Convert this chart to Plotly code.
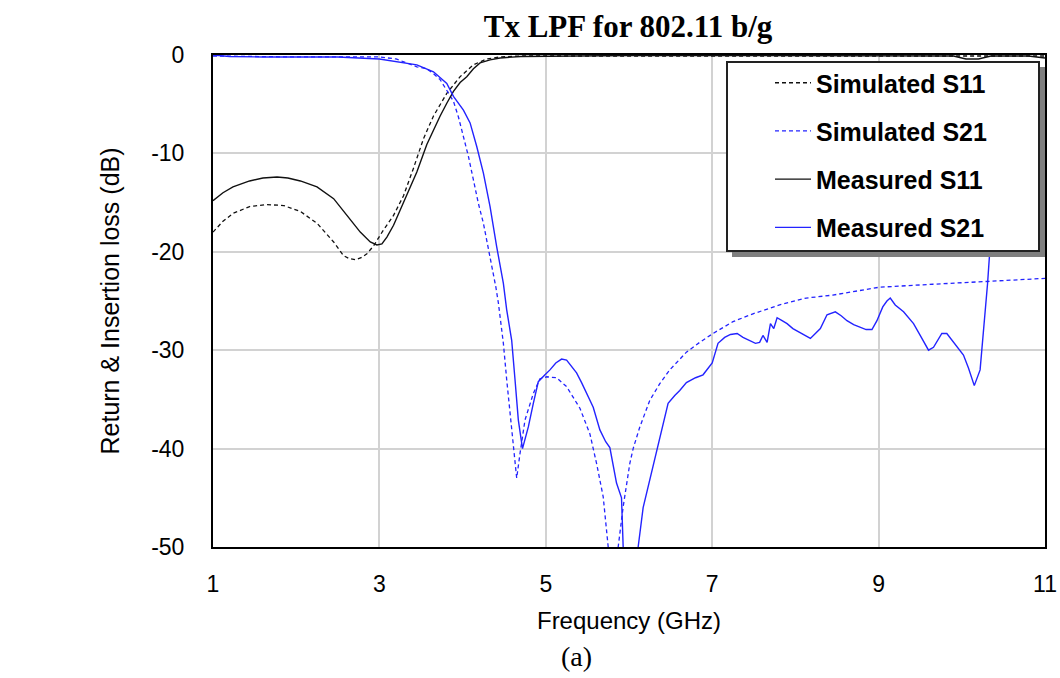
import plotly.graph_objects as go

# ---------------- data ----------------
chart_title = "Tx LPF for 802.11 b/g"
x_title = "Frequency (GHz)"
y_title = "Return & Insertion loss (dB)"
caption = "(a)"
x_ticks = [1, 3, 5, 7, 9, 11]
y_ticks = [0, -10, -20, -30, -40, -50]
series_names = ["Simulated S11", "Simulated S21", "Measured S11", "Measured S21"]

sim_s11_f = [1.0, 1.12, 1.24, 1.44, 1.65, 1.85, 2.05, 2.25, 2.45, 2.57, 2.64, 2.71, 2.78, 2.85,
             2.93, 3.04, 3.17, 3.29, 3.41, 3.53, 3.65, 3.81, 3.97, 4.13, 4.29, 4.45, 4.7, 5.5,
             6.5, 7.5, 8.5, 9.5, 10.5, 11.0]
sim_s11_db = [-18.0, -16.9, -16.1, -15.4, -15.2, -15.3, -15.9, -17.1, -19.0, -20.4, -20.7, -20.8,
              -20.6, -20.2, -19.4, -17.9, -16.3, -14.3, -11.5, -8.5, -6.2, -3.9, -2.2, -1.0, -0.4,
              -0.2, -0.1, -0.1, -0.1, -0.1, -0.1, -0.1, -0.1, -0.1]

sim_s21_f = [1.0, 1.3, 1.6, 2.0, 2.5, 3.0, 3.2, 3.45, 3.57, 3.65, 3.73, 3.81, 3.89, 3.95, 4.01,
             4.07, 4.13, 4.19, 4.25, 4.29, 4.33, 4.37, 4.40, 4.43, 4.49, 4.53, 4.57, 4.61, 4.65,
             4.69, 4.75, 4.85, 4.93, 5.01, 5.13, 5.25, 5.41, 5.53, 5.61, 5.69, 5.75, 5.81, 5.87,
             5.93, 6.01, 6.05, 6.13, 6.25, 6.37, 6.49, 6.69, 6.85, 7.01, 7.25, 7.49, 7.81, 8.13,
             8.45, 9.01, 9.65, 10.05, 10.57, 11.0]
sim_s21_db = [-0.1, -0.15, -0.2, -0.2, -0.2, -0.2, -0.4, -1.2, -1.4, -1.9, -2.5, -3.6, -4.7, -6.3,
              -8.3, -10.3, -12.7, -15.1, -17.1, -18.8, -20.5, -22.2, -23.6, -25.2, -29.3, -33.0,
              -36.4, -39.8, -43.0, -40.5, -37.1, -34.4, -32.9, -32.7, -32.8, -33.7, -35.9, -38.5,
              -41.5, -44.9, -50.0, -58.0, -50.0, -45.9, -41.5, -40.0, -37.8, -35.1, -33.4, -32.0,
              -30.2, -29.2, -28.3, -27.1, -26.3, -25.4, -24.7, -24.4, -23.6, -23.3, -23.1, -22.9,
              -22.7]

meas_s11_f = [1.0, 1.12, 1.24, 1.44, 1.6, 1.77, 1.9, 2.05, 2.25, 2.45, 2.61, 2.77, 2.89, 2.97,
              3.03, 3.09, 3.17, 3.25, 3.33, 3.45, 3.57, 3.65, 3.73, 3.81, 3.89, 3.97, 4.05, 4.13,
              4.21, 4.33, 4.45, 4.7, 5.2, 6.0, 7.0, 8.0, 9.0, 9.9, 10.05, 10.2, 10.35, 10.8, 11.0]
meas_s11_db = [-14.8, -14.0, -13.4, -12.8, -12.5, -12.4, -12.5, -12.8, -13.4, -14.6, -16.3, -18.0,
               -19.0, -19.3, -19.2, -18.5, -17.3, -15.8, -14.3, -11.9, -9.1, -7.6, -6.2, -4.9,
               -3.7, -2.8, -2.2, -1.4, -0.8, -0.5, -0.3, -0.15, -0.1, -0.05, -0.05, -0.05, -0.05,
               -0.1, -0.4, -0.4, -0.1, -0.1, -0.3]

meas_s21_f = [1.0, 1.1, 1.2, 1.6, 2.0, 2.5, 3.0, 3.25, 3.45, 3.65, 3.81, 3.89, 4.01, 4.09, 4.17,
              4.25, 4.33, 4.41, 4.47, 4.49, 4.53, 4.59, 4.63, 4.67, 4.72, 4.79, 4.85, 4.91, 4.99,
              5.05, 5.12, 5.19, 5.25, 5.31, 5.37, 5.43, 5.49, 5.57, 5.65, 5.72, 5.77, 5.85, 5.91,
              5.93, 6.0, 6.11, 6.17, 6.25, 6.35, 6.47, 6.55, 6.61, 6.69, 6.8, 6.89, 7.0, 7.07,
              7.15, 7.22, 7.3, 7.37, 7.45, 7.52, 7.57, 7.61, 7.66, 7.7, 7.74, 7.78, 7.84, 7.9,
              7.97, 8.05, 8.12, 8.18, 8.24, 8.3, 8.38, 8.48, 8.55, 8.62, 8.7, 8.78, 8.85, 8.92,
              8.98, 9.05, 9.1, 9.14, 9.2, 9.3, 9.42, 9.5, 9.6, 9.66, 9.76, 9.82, 9.9, 10.02,
              10.08, 10.15, 10.22, 10.26, 10.31, 10.36, 10.42, 10.5, 10.7, 11.0]
meas_s21_db = [0.0, -0.1, -0.15, -0.2, -0.2, -0.2, -0.4, -0.7, -1.0, -1.7, -2.9, -4.2, -5.6, -6.9,
               -9.3, -12.0, -15.4, -19.5, -22.2, -23.2, -25.9, -29.0, -33.0, -37.1, -40.0, -37.8,
               -35.4, -33.2, -32.5, -32.0, -31.3, -30.9, -31.0, -31.6, -32.3, -33.3, -34.4, -35.8,
               -38.1, -39.3, -39.9, -43.5, -45.0, -50.0, -60.0, -50.0, -46.0, -43.2, -39.9, -35.4,
               -34.6, -34.1, -33.3, -32.8, -32.5, -31.3, -29.3, -28.7, -28.4, -28.3, -28.7, -29.0,
               -29.3, -29.2, -28.5, -29.2, -27.3, -27.8, -26.7, -27.0, -27.3, -27.8, -28.2, -28.5,
               -28.8, -28.3, -27.8, -26.4, -26.1, -26.5, -27.0, -27.4, -27.7, -27.9, -27.9, -27.0,
               -25.6, -25.0, -24.7, -25.4, -26.1, -27.3, -28.5, -30.0, -29.7, -28.3, -28.3, -29.2,
               -30.5, -31.8, -33.6, -32.0, -28.0, -23.2, -17.0, -8.0, -4.0, -2.0, -1.5]

# ---------------- layout helpers (pixel geometry) ----------------
W, H = 1060, 678
PLOT_L, PLOT_R, PLOT_T, PLOT_B = 213, 1045, 55, 547      # plot area in pixels
L, T = PLOT_L, PLOT_T
R, B = W - PLOT_R, H - PLOT_B
PW, PH = PLOT_R - PLOT_L, PLOT_B - PLOT_T


def px(x):
    return (x - PLOT_L) / PW


def py(y):
    return 1 - (y - PLOT_T) / PH


BLACK = "#111111"
BLUE = "#2323ff"

fig = go.Figure()
styles = [
    (sim_s11_f, sim_s11_db, BLACK, "4px,3px", 1.3),
    (sim_s21_f, sim_s21_db, BLUE, "4px,3px", 1.3),
    (meas_s11_f, meas_s11_db, BLACK, "solid", 1.4),
    (meas_s21_f, meas_s21_db, BLUE, "solid", 1.4),
]
for name, (fx, fy, col, dash, wd) in zip(series_names, styles):
    fig.add_trace(go.Scatter(x=fx, y=fy, mode="lines", name=name, legendgroup=name,
                             line=dict(color=col, dash=dash, width=wd)))

axis_common = dict(showgrid=True, gridcolor="#d2d2d2", gridwidth=2, zeroline=False,
                   showline=True, linecolor="#000000", linewidth=2, mirror=True, ticks="",
                   automargin=False,
                   tickfont=dict(family="Liberation Sans", size=23, color="black"))
title_font = dict(family="Liberation Sans", size=24, color="black")

fig.update_xaxes(range=[1, 11], tickvals=x_ticks, ticktext=[str(v) for v in x_ticks],
                 ticklabelstandoff=15,
                 title=dict(text=x_title, standoff=17, font=title_font),
                 **axis_common)
fig.update_yaxes(range=[-50, 0], tickvals=y_ticks, ticktext=[str(v) for v in y_ticks],
                 ticklabelstandoff=22,
                 title=dict(text=y_title, standoff=24, font=dict(title_font, size=25)),
                 **axis_common)

# legend box with drop shadow (drawn above the curves)
fig.add_shape(type="rect", xref="paper", yref="paper", layer="above",
              x0=px(732), x1=px(1045), y0=py(257), y1=py(67),
              fillcolor="#7f7f7f", line=dict(width=0))
fig.add_shape(type="rect", xref="paper", yref="paper", layer="above",
              x0=px(727), x1=px(1039), y0=py(251), y1=py(62),
              fillcolor="white", line=dict(color="#222222", width=2))

fig.add_annotation(text=caption, xref="paper", yref="paper", x=px(576), y=py(656),
                   showarrow=False, xanchor="center", yanchor="middle",
                   font=dict(family="Liberation Serif", size=28, color="black"))

fig.update_layout(
    width=W, height=H,
    margin=dict(l=L, r=R, t=T, b=B),
    plot_bgcolor="white", paper_bgcolor="white",
    title=dict(text=chart_title, x=628 / W, xanchor="center",
               y=1 - 26 / H, yanchor="middle",
               font=dict(family="Liberation Serif", size=31, color="black", weight="bold")),
    legend=dict(x=px(770), y=py(60), xanchor="left", yanchor="top",
                bgcolor="rgba(0,0,0,0)", borderwidth=0, tracegroupgap=12.7, itemwidth=36,
                font=dict(family="Liberation Sans", size=25, color="black", weight="bold")),
    showlegend=True,
)

# place the figure at the top-left corner of the page (no default body margin / scrollbars)
fig.write_html("out.html",
               config={"displayModeBar": False},
               post_script="document.body.style.margin='0';document.body.style.overflow='hidden';")
